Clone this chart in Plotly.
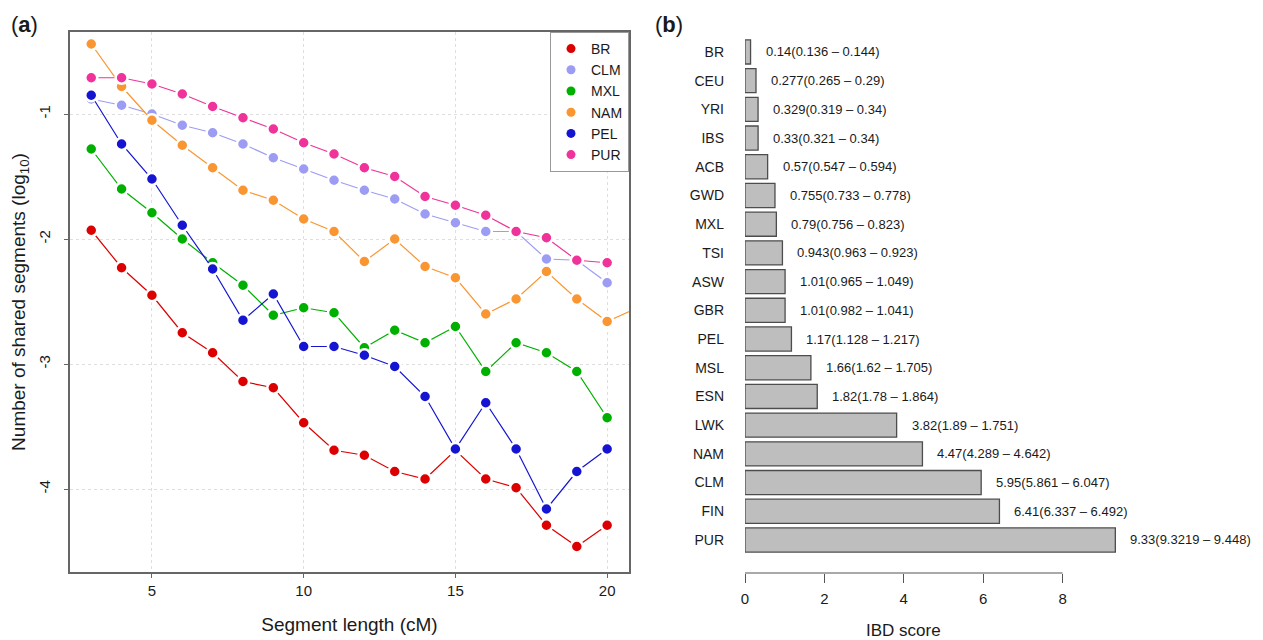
import plotly.graph_objects as go

# ---- panel (a): shared segments vs segment length ----
seg_len = list(range(3, 21))
br = [-1.93, -2.23, -2.45, -2.75, -2.91, -3.14, -3.19, -3.47, -3.69, -3.73,
      -3.86, -3.92, -3.69, -3.92, -3.99, -4.29, -4.46, -4.29]
clm = [-0.88, -0.93, -1.00, -1.09, -1.15, -1.24, -1.35, -1.44, -1.53, -1.61,
       -1.68, -1.80, -1.87, -1.94, -1.94, -2.16, -2.17, -2.35]
mxl = [-1.28, -1.60, -1.79, -2.00, -2.19, -2.37, -2.61, -2.55, -2.59, -2.87,
       -2.73, -2.83, -2.70, -3.06, -2.83, -2.91, -3.06, -3.43]
# NAM has one more point (21 cM) just outside the visible range
nam_len = list(range(3, 22))
nam = [-0.44, -0.78, -1.05, -1.25, -1.43, -1.61, -1.69, -1.84, -1.94, -2.18,
       -2.00, -2.22, -2.31, -2.60, -2.48, -2.26, -2.48, -2.66, -2.55]
pel = [-0.85, -1.24, -1.52, -1.89, -2.24, -2.65, -2.44, -2.86, -2.86, -2.93,
       -3.02, -3.26, -3.68, -3.31, -3.68, -4.16, -3.86, -3.68]
pur = [-0.71, -0.71, -0.76, -0.84, -0.94, -1.03, -1.12, -1.23, -1.32, -1.43,
       -1.50, -1.66, -1.73, -1.81, -1.94, -1.99, -2.17, -2.19]

# ---- panel (b): IBD score per population ----
pops = ["BR", "CEU", "YRI", "IBS", "ACB", "GWD", "MXL", "TSI", "ASW", "GBR",
        "PEL", "MSL", "ESN", "LWK", "NAM", "CLM", "FIN", "PUR"]
ibd = [0.14, 0.277, 0.329, 0.33, 0.57, 0.755, 0.79, 0.943, 1.01, 1.01,
       1.17, 1.66, 1.82, 3.82, 4.47, 5.95, 6.41, 9.33]
ci_low = [0.136, 0.265, 0.319, 0.321, 0.547, 0.733, 0.756, 0.963, 0.965, 0.982,
          1.128, 1.62, 1.78, 1.89, 4.289, 5.861, 6.337, 9.3219]
ci_high = [0.144, 0.29, 0.34, 0.34, 0.594, 0.778, 0.823, 0.923, 1.049, 1.041,
           1.217, 1.705, 1.864, 1.751, 4.642, 6.047, 6.492, 9.448]

# page body adds an 8px margin, so the figure is drawn a bit smaller
OFF = 8
W, H = 1263 - OFF, 640 - OFF
FONT = "Liberation Sans, Arial, Helvetica, sans-serif"
TXT = "#1a1a1a"

series = [
    ("BR", seg_len, br, "#DD0000"),
    ("CLM", seg_len, clm, "#9C9CF5"),
    ("MXL", seg_len, mxl, "#00B000"),
    ("NAM", nam_len, nam, "#FA9632"),
    ("PEL", seg_len, pel, "#1414D2"),
    ("PUR", seg_len, pur, "#F0339A"),
]

fig = go.Figure()
for name, xs, ys, col in series:
    fig.add_trace(go.Scatter(
        x=xs, y=ys, name=name, mode="lines+markers", showlegend=False,
        line=dict(color=col, width=1.2),
        marker=dict(color=col, size=12, line=dict(color="white", width=2.5)),
        xaxis="x", yaxis="y"))
# legend shows dots only (R style)
for name, xs, ys, col in series:
    fig.add_trace(go.Scatter(
        x=[None], y=[None], name=name, mode="markers",
        marker=dict(color=col, size=9), xaxis="x", yaxis="y"))

labels = [f"{v}({lo} \u2013 {hi})" for v, lo, hi in zip(ibd, ci_low, ci_high)]
fig.add_trace(go.Bar(
    x=ibd, y=pops, orientation="h", showlegend=False,
    marker=dict(color="#BEBEBE", line=dict(color="#4d4d4d", width=1.3)),
    xaxis="x2", yaxis="y2"))
for v, p, t in zip(ibd, pops, labels):
    fig.add_annotation(x=v, y=p, xref="x2", yref="y2", text=t, showarrow=False,
                       xanchor="left", xshift=13, font=dict(size=13, color=TXT))

def px(x):
    return (x - OFF) / W

def py(y):
    return 1 - (y - OFF) / H

fig.update_layout(
    width=W, height=H, margin=dict(l=0, r=0, t=0, b=0),
    paper_bgcolor="white", plot_bgcolor="white",
    font=dict(family=FONT, color=TXT, size=15),
    xaxis=dict(domain=[px(70), px(629)], range=[2.3, 20.72],
               tickvals=[5, 10, 15, 20], showgrid=True, gridcolor="#dedede",
               griddash="dot", gridwidth=1, zeroline=False,
               showline=True, mirror=True, linecolor="#666", linewidth=1.5,
               ticks="outside", ticklen=4, tickcolor="#666",
               tickfont=dict(size=15), automargin=False,
               title=dict(text="Segment length (cM)", font=dict(size=19),
                          standoff=20)),
    yaxis=dict(domain=[py(572), py(32)], range=[-4.664, -0.344],
               tickvals=[-1, -2, -3, -4], ticktext=["-1", "-2", "-3", "-4"],
               tickangle=-90, showgrid=True, gridcolor="#dedede",
               griddash="dot", gridwidth=1, zeroline=False,
               showline=True, mirror=True, linecolor="#666", linewidth=1.5,
               ticks="outside", ticklen=4, tickcolor="#666",
               ticklabelstandoff=8,
               tickfont=dict(size=15), automargin=False,
               title=dict(text="Number of shared segments (log<sub>10</sub>)",
                          font=dict(size=19), standoff=10)),
    xaxis2=dict(domain=[px(745), 1.0], range=[0, 13.05], anchor="y2",
                tickvals=[0, 2, 4, 6, 8], showgrid=False, zeroline=False,
                showline=False, ticks="outside", ticklen=9, tickcolor="#555",
                tickwidth=1.2, tickfont=dict(size=15), automargin=False,
                ticklabelstandoff=3),
    yaxis2=dict(domain=[py(573), py(33)], range=[18.15, -0.66], anchor="x2",
                type="category", categoryorder="array", categoryarray=pops,
                showgrid=False, zeroline=False, showline=False,
                ticks="", ticklabelstandoff=20, tickfont=dict(size=14),
                automargin=False),
    bargap=0.16,
    legend=dict(x=px(629), xanchor="right", y=py(32), yanchor="top",
                bgcolor="white", bordercolor="#999", borderwidth=1,
                font=dict(size=14), itemwidth=30, tracegroupgap=0),
    shapes=[dict(type="line", xref="x2", yref="paper", x0=0, x1=8,
                 y0=py(573), y1=py(573), line=dict(color="#555", width=1.2))],
)

fig.add_annotation(x=4, y=py(630), xref="x2", yref="paper", text="IBD score",
                   showarrow=False, yanchor="middle", font=dict(size=17, color=TXT))
fig.add_annotation(x=px(9), y=py(24), xref="paper", yref="paper", text="(<b>a</b>)",
                   showarrow=False, xanchor="left", yanchor="middle",
                   font=dict(size=22, color=TXT))
fig.add_annotation(x=px(653), y=py(24), xref="paper", yref="paper", text="(<b>b</b>)",
                   showarrow=False, xanchor="left", yanchor="middle",
                   font=dict(size=22, color=TXT))

fig.write_html("out.html")
